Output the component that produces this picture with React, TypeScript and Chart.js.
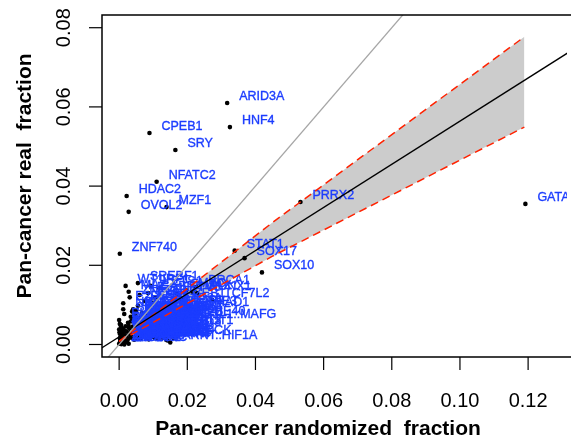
import React, { useEffect, useRef } from "react";
import { Chart, registerables } from "chart.js";

Chart.register(...registerables);

const xTicks = [0, 0.02, 0.04, 0.06, 0.08, 0.1, 0.12];
const xTickLabels = ["0.00", "0.02", "0.04", "0.06", "0.08", "0.10", "0.12"];
const yTicks = [0, 0.02, 0.04, 0.06, 0.08];
const yTickLabels = ["0.00", "0.02", "0.04", "0.06", "0.08"];

const xTitle = "Pan-cancer randomized  fraction";
const yTitle = "Pan-cancer real  fraction";

const tfNames = [
  "ARID3A", "HNF4", "CPEB1", "SRY", "NFATC2", "HDAC2", "MZF1", "OVOL2", "PRRX2", "GATA4", "ZNF740", "STAT1", "SOX17", "SOX10",
  "WT1", "SREBF1", "MAZ", "ZNF263", "E2F6", "IRF1", "ETS1", "BRCA1", "RUNX1", "TCF7L2", "ZEB1", "SMAD1", "NFE2L1::MAFG", "ARNT::HIF1A", "MNT", "ARNT",
  "KLF4", "SP1", "ELK1", "EGR1", "YY1", "NRF1", "MYC", "MAX", "TFE3",
  "HES1", "GABPA", "ELF1", "ETV6", "KLF5", "SP2", "TFAP2A", "MEIS1", "NR2F2", "ZBTB7A", "CTCF", "PLAG1", "REST",
  "FOXA2", "FOXC1", "FOXD1", "FOXK1", "FOXP1", "SOX4", "MITF", "TFEB", "USF2", "BHLHE40",
  "EBF1", "TCF3", "ASCL1", "SPI1", "RELA", "NFKB1", "JUNB", "FOSL2", "CEBPB",
  "GATA3", "FOXA1", "SOX2", "SOX9", "PAX5", "MEF2C", "MYB", "CREB1", "ATF3", "JUN", "FOS",
  "AR", "ESR1", "NR3C1", "RXRA", "PPARG", "VDR", "RARA", "NR4A1", "HNF1A", "HNF1B", "ONECUT1", "FOXO3", "STAT3",
  "TP53", "TP63", "ELF3", "EHF", "ERG", "FLI1", "ETV1", "ETV4", "ELK4", "FEV", "SPIB", "IRF4", "IRF8", "IRF2",
  "CDX2", "HOXA5", "HOXB13", "HOXC9", "PDX1", "PITX1", "OTX2", "GSC", "LHX2", "MSX1", "EN1", "DLX3", "BARX1", "GBX2", "ALX1",
  "ZNF143", "ZNF384", "ZNF354C", "ZFX", "ZIC1", "ZBTB33", "THAP1", "TBP", "SRF", "SIX1", "SNAI2", "TWIST1", "TEAD1", "TEAD4", "HSF1", "HSF2", "MLX", "CLOCK",
  "AHR", "ATF1", "BATF", "BCL6", "CUX1", "DBP", "NFIA", "NFIC", "NFYA", "NFYB",
  "RFX1", "RFX2", "NFE2", "MAFK", "BACH1", "BACH2", "PBX1", "PKNOX1", "TBX5", "LEF1", "TCF4", "TCF12",
];

const randomizedFraction = [
  0.0317, 0.0325, 0.0089, 0.0165, 0.0110, 0.0022, 0.0139, 0.0028, 0.0532, 0.1192, 0.0002, 0.0339, 0.0368, 0.0419,
  0.0019, 0.0055, 0.0028, 0.0031, 0.0012, 0.0092, 0.0118, 0.0226, 0.0229, 0.0273, 0.0185, 0.0220, 0.0165, 0.0150, 0.0142, 0.0138,
  0.0041, 0.0015, 0.0000, 0.0002, 0.0028, 0.0012, 0.0197, 0.0215, 0.0221,
  0.0060, 0.0085, 0.0105, 0.0170, 0.0075, 0.0100, 0.0130, 0.0160, 0.0055, 0.0090, 0.0120, 0.0145, 0.0175,
  0.0038, 0.0046, 0.0050, 0.0068, 0.0086, 0.0104, 0.0118, 0.0138, 0.0155, 0.0172,
  0.0042, 0.0034, 0.0048, 0.0062, 0.0078, 0.0094, 0.0110, 0.0128, 0.0146,
  0.0034, 0.0044, 0.0026, 0.0038, 0.0050, 0.0064, 0.0079, 0.0095, 0.0112, 0.0130, 0.0148,
  0.0005, 0.0011, 0.0019, 0.0029, 0.0040, 0.0052, 0.0065, 0.0080, 0.0095, 0.0110, 0.0125, 0.0140, 0.0156,
  0.0001, 0.0007, 0.0013, 0.0021, 0.0030, 0.0040, 0.0051, 0.0063, 0.0076, 0.0090, 0.0104, 0.0119, 0.0134, 0.0150,
  0.0002, 0.0008, 0.0014, 0.0020, 0.0027, 0.0035, 0.0044, 0.0054, 0.0064, 0.0075, 0.0087, 0.0100, 0.0113, 0.0127, 0.0140,
  0.0000, 0.0003, 0.0006, 0.0010, 0.0015, 0.0021, 0.0028, 0.0036, 0.0045, 0.0055, 0.0066, 0.0078, 0.0091, 0.0105, 0.0120, 0.0128, 0.0160, 0.0168,
  0.0004, 0.0009, 0.0017, 0.0003, 0.0000, 0.0006, 0.0012, 0.0024, 0.0052, 0.0070,
  0.0058, 0.0072, 0.0083, 0.0097, 0.0108, 0.0122, 0.0033, 0.0047, 0.0061, 0.0069, 0.0082, 0.0093,
];

const realFraction = [
  0.0610, 0.0549, 0.0534, 0.0491, 0.0411, 0.0375, 0.0347, 0.0335, 0.0360, 0.0355, 0.0229, 0.0237, 0.0218, 0.0182,
  0.0148, 0.0155, 0.0133, 0.0119, 0.0104, 0.0148, 0.0142, 0.0145, 0.0130, 0.0112, 0.0112, 0.0090, 0.0059, 0.0005, 0.0010, 0.0012,
  0.0089, 0.0077, 0.0062, 0.0052, 0.0047, 0.0089, 0.0137, 0.0133, 0.0092,
  0.0125, 0.0130, 0.0118, 0.0128, 0.0110, 0.0105, 0.0100, 0.0095, 0.0098, 0.0093, 0.0085, 0.0082, 0.0080,
  0.0083, 0.0078, 0.0086, 0.0080, 0.0077, 0.0079, 0.0074, 0.0076, 0.0071, 0.0066,
  0.0072, 0.0070, 0.0074, 0.0068, 0.0072, 0.0066, 0.0070, 0.0064, 0.0068,
  0.0058, 0.0060, 0.0055, 0.0061, 0.0056, 0.0059, 0.0054, 0.0060, 0.0055, 0.0058, 0.0052,
  0.0044, 0.0040, 0.0046, 0.0041, 0.0045, 0.0039, 0.0044, 0.0040, 0.0046, 0.0041, 0.0044, 0.0038, 0.0043,
  0.0030, 0.0034, 0.0027, 0.0032, 0.0028, 0.0033, 0.0026, 0.0031, 0.0027, 0.0033, 0.0029, 0.0035, 0.0027, 0.0031,
  0.0016, 0.0020, 0.0013, 0.0021, 0.0015, 0.0019, 0.0012, 0.0018, 0.0014, 0.0020, 0.0013, 0.0019, 0.0015, 0.0021, 0.0013,
  0.0002, 0.0007, 0.0001, 0.0005, 0.0000, 0.0006, 0.0002, 0.0017, 0.0019, 0.0016, 0.0018, 0.0017, 0.0019, 0.0016, 0.0018, 0.0017, 0.0016, 0.0018,
  0.0011, 0.0024, 0.0035, 0.0026, 0.0038, 0.0049, 0.0009, 0.0010, 0.0064, 0.0052,
  0.0023, 0.0024, 0.0036, 0.0025, 0.0037, 0.0024, 0.0022, 0.0036, 0.0047, 0.0063, 0.0049, 0.0061,
];

// confidence band (randomized fraction -> real fraction)
const bandX = [0, 0.045, 0.1189];
const bandUpper = [0.0008, 0.0308, 0.0777];
const bandLower = [0.0008, 0.0223, 0.0549];

// fitted regression line
const fitX = [-0.01, 0.14];
const fitY = [-0.00355, 0.0782];

// identity line y = x
const identityX = [-0.01, 0.1];
const identityY = [-0.01, 0.1];

const LABEL_COLOR = "#1c3dff";
const FONT = '"Liberation Sans", Arial, Helvetica, sans-serif';
const POINTS_INDEX = 2;

const labelPlugin = {
  id: "tfLabels",
  afterDatasetDraw(chart: any, args: any) {
    if (args.index !== POINTS_INDEX) return;
    const ctx = chart.ctx;
    const area = chart.chartArea;
    ctx.save();
    ctx.beginPath();
    ctx.rect(area.left, area.top, area.right - area.left, area.bottom - area.top);
    ctx.clip();
    ctx.font = `12.5px ${FONT}`;
    ctx.fillStyle = LABEL_COLOR;
    ctx.strokeStyle = LABEL_COLOR;
    ctx.lineWidth = 0.35;
    ctx.textAlign = "left";
    ctx.textBaseline = "middle";
    args.meta.data.forEach((pt: any, i: number) => {
      ctx.fillText(tfNames[i], pt.x + 12, pt.y - 6.5);
      ctx.strokeText(tfNames[i], pt.x + 12, pt.y - 6.5);
    });
    ctx.restore();
  },
};

const axesPlugin = {
  id: "rAxes",
  afterDraw(chart: any) {
    const ctx = chart.ctx;
    const area = chart.chartArea;
    const xs = chart.scales.x;
    const ys = chart.scales.y;
    ctx.save();
    ctx.strokeStyle = "#000";
    ctx.lineWidth = 1.5;
    // box (right side is beyond the visible page)
    ctx.beginPath();
    ctx.moveTo(area.right + 10, area.top);
    ctx.lineTo(area.left, area.top);
    ctx.lineTo(area.left, area.bottom);
    ctx.lineTo(area.right + 10, area.bottom);
    ctx.stroke();

    ctx.lineWidth = 1.2;
    xTicks.forEach((v) => {
      const px = xs.getPixelForValue(v);
      ctx.beginPath();
      ctx.moveTo(px, area.bottom);
      ctx.lineTo(px, area.bottom + 13);
      ctx.stroke();
    });
    yTicks.forEach((v) => {
      const py = ys.getPixelForValue(v);
      ctx.beginPath();
      ctx.moveTo(area.left, py);
      ctx.lineTo(area.left - 13, py);
      ctx.stroke();
    });

    ctx.fillStyle = "#000";
    ctx.font = `20px ${FONT}`;
    ctx.textAlign = "center";
    ctx.textBaseline = "middle";
    xTicks.forEach((v, i) => {
      const px = xs.getPixelForValue(v);
      ctx.fillText(xTickLabels[i], px, area.bottom + 44);
    });
    yTicks.forEach((v, i) => {
      const py = ys.getPixelForValue(v);
      ctx.save();
      ctx.translate(area.left - 38, py);
      ctx.rotate(-Math.PI / 2);
      ctx.fillText(yTickLabels[i], 0, 0);
      ctx.restore();
    });

    ctx.font = `bold 21px ${FONT}`;
    ctx.fillText(xTitle, 318, area.bottom + 72);
    ctx.save();
    ctx.translate(25, 176);
    ctx.rotate(-Math.PI / 2);
    ctx.fillText(yTitle, 0, 0);
    ctx.restore();
    ctx.restore();
  },
};

const toXY = (xsArr: number[], ysArr: number[]) => xsArr.map((x, i) => ({ x, y: ysArr[i] }));

export default function App() {
  const canvasRef = useRef<HTMLCanvasElement | null>(null);

  useEffect(() => {
    if (!canvasRef.current) return;
    const chart = new Chart(canvasRef.current, {
      type: "line",
      data: {
        datasets: [
          {
            label: "band-upper",
            data: toXY(bandX, bandUpper),
            borderWidth: 0,
            borderColor: "rgba(0,0,0,0)",
            pointRadius: 0,
            backgroundColor: "#cccccc",
            fill: "+1",
            order: 10,
          },
          {
            label: "band-lower",
            data: toXY(bandX, bandLower),
            borderWidth: 0,
            borderColor: "rgba(0,0,0,0)",
            pointRadius: 0,
            fill: false,
            order: 9,
          },
          {
            label: "TFs",
            data: toXY(randomizedFraction, realFraction),
            showLine: false,
            pointRadius: 2.3,
            pointBackgroundColor: "#000",
            pointBorderWidth: 0,
            borderColor: "#000",
            fill: false,
            order: 8,
          },
          {
            label: "upper",
            data: toXY(bandX, bandUpper),
            borderColor: "#ff2200",
            borderWidth: 1.5,
            borderDash: [8, 5],
            pointRadius: 0,
            fill: false,
            order: 4,
          },
          {
            label: "lower",
            data: toXY(bandX, bandLower),
            borderColor: "#ff2200",
            borderWidth: 1.5,
            borderDash: [8, 5],
            pointRadius: 0,
            fill: false,
            order: 3,
          },
          {
            label: "fit",
            data: toXY(fitX, fitY),
            borderColor: "#000",
            borderWidth: 1.3,
            pointRadius: 0,
            fill: false,
            order: 2,
          },
          {
            label: "identity",
            data: toXY(identityX, identityY),
            borderColor: "#a6a6a6",
            borderWidth: 1.3,
            pointRadius: 0,
            fill: false,
            order: 1,
          },
        ],
      },
      options: {
        responsive: false,
        animation: false,
        devicePixelRatio: 1,
        layout: { padding: { left: 102, top: 15, right: 0, bottom: 83 } },
        scales: {
          x: { type: "linear", min: -0.00503, max: 0.13141, display: false },
          y: { type: "linear", min: -0.00316, max: 0.08321, display: false },
        },
        plugins: {
          legend: { display: false },
          tooltip: { enabled: false },
        },
        elements: { line: { tension: 0 } },
      },
      plugins: [labelPlugin, axesPlugin],
    } as any);
    return () => chart.destroy();
  }, []);

  return (
    <div style={{ position: "absolute", left: 0, top: 0, width: 571, height: 440, background: "#fff", overflow: "hidden" }}>
      <canvas ref={canvasRef} width={571} height={440} style={{ display: "block", width: 571, height: 440 }} />
    </div>
  );
}
